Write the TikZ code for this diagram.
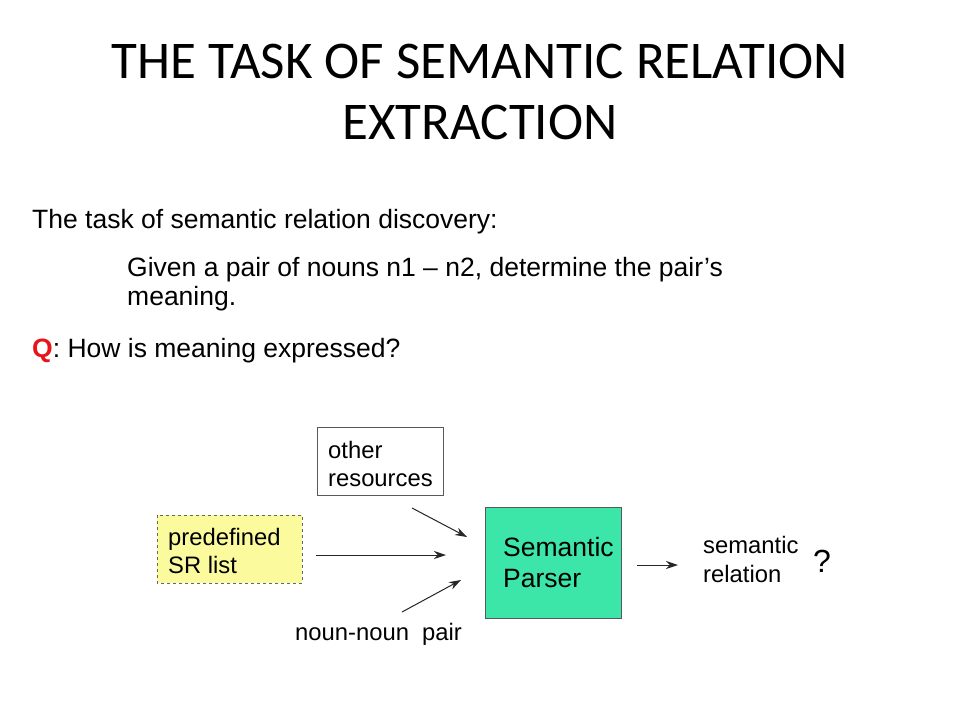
\documentclass[tikz,border=0pt]{standalone}
\usepackage{fontspec}
\setmainfont{Liberation Sans}
\newfontfamily\titlefont{Carlito}
\usetikzlibrary{arrows.meta}
\definecolor{boxgreen}{HTML}{3CE6A9}
\definecolor{boxyellow}{HTML}{FBFB9E}
\definecolor{qred}{HTML}{E8141B}
\begin{document}
\begin{tikzpicture}[x=1pt,y=-1pt,
  txt/.style={anchor=base west,inner sep=0pt,font=\fontsize{26.5}{30}\selectfont},
  btxt/.style={anchor=base west,inner sep=0pt,font=\fontsize{23.8}{28}\selectfont},
  conn/.style={-{Stealth[length=12pt,width=8pt]},line width=1pt,black!85},
  titletxt/.style={anchor=base,inner sep=0pt,font=\titlefont\fontsize{53}{60}\selectfont}]
\useasboundingbox (0,0) rectangle (960,720);
\fill[white] (0,0) rectangle (960,720);
\node[titletxt] (t1) at (480,78) {THE TASK OF SEMANTIC RELATION};
\node[titletxt] (t2) at (480,139) {EXTRACTION};
\node[txt] (l1) at (32,228) {The task of semantic relation discovery:};
\node[txt] (l2) at (127,276) {Given a pair of nouns n1 -- n2, determine the pair’s};
\node[txt] (l3) at (127,305) {meaning.};
\node[txt] (l4) at (32,357) {\textcolor{qred}{\textbf{Q}}: How is meaning expressed?};
% boxes
\draw[draw=black!65,line width=0.8pt,fill=white] (317,427) rectangle (443,495);
\node[btxt] (or1) at (328,458) {other};
\node[btxt] (or2) at (328,486) {resources};
\draw[draw=black!60,dashed,line width=0.8pt,fill=boxyellow] (157,515) rectangle (302,583);
\node[btxt] (pd1) at (168,545) {predefined};
\node[btxt] (pd2) at (168,573) {SR list};
\draw[draw=black!65,line width=0.8pt,fill=boxgreen] (485,507) rectangle (621,618);
\node[txt] (sp1) at (503,556) {Semantic};
\node[txt] (sp2) at (503,587) {Parser};
\node[btxt] (nn) at (295,640) {noun-noun\ \ pair};
\node[btxt] (sr1) at (703,553) {semantic};
\node[btxt] (sr2) at (703,582) {relation};
\node[txt,font=\fontsize{32}{36}\selectfont] (qm) at (813,572) {?};
% arrows
\coordinate (a1s) at (412,508); \coordinate (a1e) at (467,537);
\coordinate (a2s) at (316,555); \coordinate (a2e) at (446,555);
\coordinate (a3s) at (402,612); \coordinate (a3e) at (461,580);
\coordinate (a4s) at (637,565); \coordinate (a4e) at (678,565);
\draw[conn] (a1s) -- (a1e);
\draw[conn] (a2s) -- (a2e);
\draw[conn] (a3s) -- (a3e);
\draw[conn] (a4s) -- (a4e);
\end{tikzpicture}
\end{document}
